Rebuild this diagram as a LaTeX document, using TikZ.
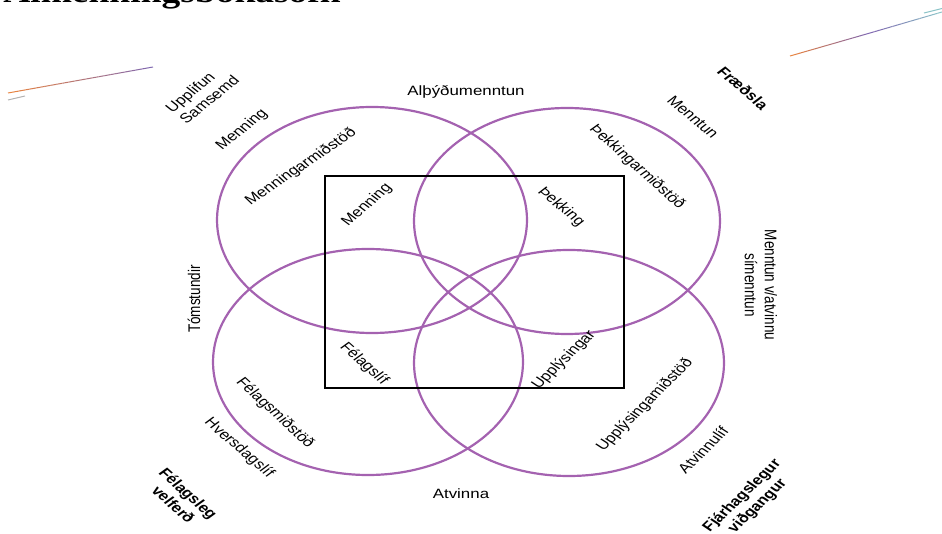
\documentclass[tikz,border=0pt]{standalone}
\usepackage{fontspec}
\setmainfont{Liberation Sans}
\newfontfamily\titlefont{Liberation Serif}
\definecolor{venn}{RGB}{164,98,176}
\definecolor{decoA}{RGB}{232,132,64}
\definecolor{decoB}{RGB}{128,104,176}
\definecolor{decoC}{RGB}{140,196,200}
\begin{document}
\begin{tikzpicture}[x=1pt,y=-1pt,
  vennring/.style={draw=venn,line width=2.2pt},
  lbl/.style={font=\fontsize{13.5}{16}\selectfont,inner sep=0pt,transform shape},
  blbl/.style={lbl,font=\fontsize{13.5}{16}\selectfont\bfseries},
  decoline/.style={line width=1pt}]
\useasboundingbox (0,0) rectangle (942,534);
\clip (0,0) rectangle (942,534);
% decorative lines
\foreach \i in {0,...,23}{
  \pgfmathsetmacro\ta{\i/24}\pgfmathsetmacro\tb{(\i+1)/24}
  \pgfmathtruncatemacro\p{100*\i/23}
  \draw[decoline,decoB!\p!decoA] ({8+145*\ta},{93-26*\ta}) -- ({8+145*\tb},{93-26*\tb});
}
\draw[decoline,gray!60] (8,100) -- (25,96);
\foreach \i in {0,...,15}{
  \pgfmathsetmacro\ta{\i/16}\pgfmathsetmacro\tb{(\i+1)/16}
  \pgfmathtruncatemacro\p{100*\i/15}
  \draw[decoline,decoB!\p!decoA] ({790+80*\ta},{56-23*\ta}) -- ({790+80*\tb},{56-23*\tb});
}
\foreach \i in {0,...,15}{
  \pgfmathsetmacro\ta{\i/16}\pgfmathsetmacro\tb{(\i+1)/16}
  \pgfmathtruncatemacro\p{100*\i/15}
  \draw[decoline,decoC!\p!decoB] ({870+72*\ta},{33-21*\ta}) -- ({870+72*\tb},{33-21*\tb});
}
\draw[decoline,decoC] (924,13) -- (942,8.5);
% circles and frame
\draw[vennring] (372,220) ellipse [x radius=155, y radius=113];
\draw[vennring] (567,221) ellipse [x radius=153, y radius=113];
\draw[vennring] (368,362) ellipse [x radius=155, y radius=113];
\draw[vennring] (569,363) ellipse [x radius=155, y radius=113];
\draw[line width=1.6pt] (325,176) rectangle (624,388);
% texts
\begin{scope}[xscale=1.25, x=0.8pt]
\node[font=\titlefont\bfseries\fontsize{30}{32}\selectfont, anchor=base west, inner sep=0pt, transform shape] (title) at (3,2.5) {Almenningsbókasöfn};
\node[lbl, rotate=45, align=left] (upplifun) at (202,94) {Upplifun\\Samsemd};
\node[lbl, rotate=45] (menningout) at (242,130) {Menning};
\node[lbl, rotate=40] (menningarmid) at (301,167) {Menningarmiðstöð};
\node[lbl, rotate=47] (menningin) at (367,205) {Menning};
\node[lbl] (alth) at (466,92) {Alþýðumenntun};
\node[lbl, rotate=-46] (menntun) at (693,117) {Menntun};
\node[blbl, rotate=-47] (fraedsla) at (743,88) {Fræðsla};
\node[lbl, rotate=-48] (thekkmid) at (637,167) {Þekkingarmiðstöð};
\node[lbl, rotate=-46] (thekk) at (561,207) {Þekking};
\node[lbl, rotate=90] (tomst) at (194,299) {Tómstundir};
\node[lbl, rotate=-90, align=center] (menntunv) at (761,285) {Menntun v/atvinnu\\símenntun};
\node[lbl, rotate=-48] (felagslif) at (364,364) {Félagslíf};
\node[lbl, rotate=50] (uppl) at (564,360) {Upplýsingar};
\node[lbl, rotate=-49] (felagsmid) at (275,413) {Félagsmiðstöð};
\node[lbl, rotate=-47] (hversd) at (239,448) {Hversdagslíf};
\node[blbl, rotate=-48, align=center] (felvel) at (181,499) {Félagsleg\\velferð};
\node[lbl, rotate=51] (upplmid) at (645,405) {Upplýsingamiðstöð};
\node[lbl, rotate=51] (atvlif) at (703,450) {Atvinnulíf};
\node[blbl, rotate=50, align=center] (fjarh) at (750,501) {Fjárhagslegur\\viðgangur};
\node[lbl] (atvinna) at (461,494) {Atvinna};
\end{scope}
\end{tikzpicture}
\end{document}
